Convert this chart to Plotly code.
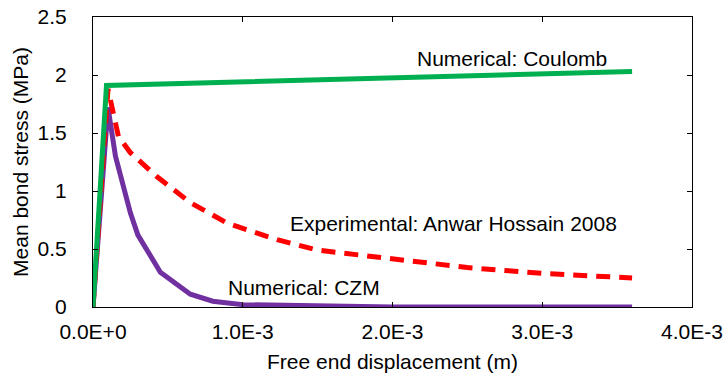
import plotly.graph_objects as go

# Data (x in m, y in MPa)
coulomb_x = [0.0, 0.09e-3, 3.6e-3]
coulomb_y = [0.0, 1.91, 2.03]

exp_x = [0.0, 0.10e-3, 0.17e-3, 0.25e-3, 0.43e-3, 0.65e-3, 0.90e-3, 1.05e-3, 1.23e-3,
         1.50e-3, 2.0e-3, 2.5e-3, 3.0e-3, 3.6e-3]
exp_y = [0.0, 1.88, 1.47, 1.33, 1.12, 0.90, 0.72, 0.66, 0.58,
         0.49, 0.41, 0.34, 0.29, 0.25]

czm_x = [0.0, 0.10e-3, 0.15e-3, 0.18e-3, 0.25e-3, 0.30e-3, 0.45e-3, 0.65e-3, 0.80e-3,
         1.0e-3, 1.5e-3, 2.0e-3, 3.6e-3]
czm_y = [0.0, 1.72, 1.30, 1.15, 0.81, 0.62, 0.30, 0.11, 0.05,
         0.02, 0.005, 0.0, 0.0]

x_tickvals = [0.0, 1.0e-3, 2.0e-3, 3.0e-3, 4.0e-3]
x_ticktext = ["0.0E+0", "1.0E-3", "2.0E-3", "3.0E-3", "4.0E-3"]
y_tickvals = [0, 0.5, 1, 1.5, 2, 2.5]
y_ticktext = ["0", "0.5", "1", "1.5", "2", "2.5"]

labels = ["Numerical: Coulomb", "Experimental: Anwar Hossain 2008", "Numerical: CZM"]
label_x = [2.80e-3, 2.41e-3, 1.41e-3]
label_y = [2.14, 0.72, 0.164]

font = "Liberation Sans"
FS = 21

fig = go.Figure()
fig.add_trace(go.Scatter(x=czm_x, y=czm_y, mode="lines",
                         line=dict(color="#7030A0", width=5), name=labels[2]))
fig.add_trace(go.Scatter(x=exp_x, y=exp_y, mode="lines",
                         line=dict(color="#FF0000", width=5, dash="14px,9px"), name=labels[1]))
fig.add_trace(go.Scatter(x=coulomb_x, y=coulomb_y, mode="lines",
                         line=dict(color="#00B050", width=5), name=labels[0]))

for t, xx, yy in zip(labels, label_x, label_y):
    fig.add_annotation(x=xx, y=yy, text=t, showarrow=False,
                       font=dict(family=font, size=FS, color="black"))

axis_common = dict(showline=True, linecolor="black", linewidth=1, mirror="ticks",
                   ticks="inside", ticklen=5, tickcolor="black", showgrid=False,
                   zeroline=False, automargin=False,
                   tickfont=dict(family=font, size=FS, color="black"))

fig.update_layout(
    width=725, height=378,
    margin=dict(l=93, r=33, t=17, b=71),
    plot_bgcolor="white", paper_bgcolor="white",
    showlegend=False,
    xaxis=dict(range=[0, 4.0e-3], tickvals=x_tickvals, ticktext=x_ticktext,
               ticklabelstandoff=6,
               title=dict(text="Free end displacement (m)", font=dict(family=font, size=FS, color="black"), standoff=12),
               **axis_common),
    yaxis=dict(range=[0, 2.5], tickvals=y_tickvals, ticktext=y_ticktext,
               ticklabelstandoff=21,
               title=dict(text="Mean bond stress (MPa)", font=dict(family=font, size=FS, color="black"), standoff=3),
               **axis_common),
)

fig.write_html("out.html")
